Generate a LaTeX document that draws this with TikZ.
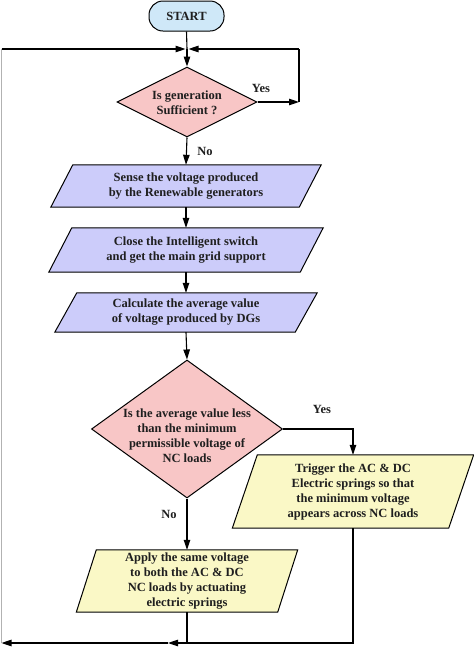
\documentclass[tikz,border=0pt]{standalone}
\usepackage{fontspec}
\setmainfont{Liberation Serif}
\usetikzlibrary{shapes.geometric,arrows.meta,backgrounds}
\definecolor{startc}{HTML}{CFE8F8}
\definecolor{parac}{HTML}{CCCCFA}
\definecolor{diac}{HTML}{F8C6C6}
\definecolor{yelc}{HTML}{FAF8C6}
\newcommand\drawpara[3]{%
  \filldraw[fill=#3, line width=1pt, line join=miter]
    ([xshift=#2/2]#1.north west) -- ([xshift=#2/2]#1.north east) --
    ([xshift=-#2/2]#1.south east) -- ([xshift=-#2/2]#1.south west) -- cycle;}
\begin{document}
\begin{tikzpicture}[x=1pt,y=-1pt,
  font=\fontsize{12.5}{15}\selectfont\bfseries,
  every node/.style={text=black!88},
  startbox/.style={rectangle, rounded corners=14pt, draw, fill=startc, line width=1pt,
     minimum width=75pt, minimum height=30pt, inner sep=0},
  pbox/.style={rectangle, align=center, inner sep=0},
  dia/.style={diamond, draw, line width=1pt, fill=diac, inner sep=0},
  txt/.style={align=center, inner sep=0},
  lab/.style={inner sep=0},
  ln/.style={line width=1.1pt},
  arr/.style={ln, -{Triangle[length=10pt,width=6.5pt]}},
  edgeln/.style={line width=1.8pt, draw=black!30}]
\useasboundingbox (0,0) rectangle (474,649);

\node[startbox] (start) at (186.5,16) {START};
\node[dia, minimum width=140pt, minimum height=70pt] (d1) at (187,102) {};
\node[txt] (d1t) at (187,102.5) {Is generation\\Sufficient ?};
\node[pbox, minimum width=248pt, minimum height=42pt] (p1) at (186,186)
  {Sense the voltage produced\\by the Renewable generators};
\node[pbox, minimum width=251pt, minimum height=44pt] (p2) at (186,250)
  {Close the Intelligent switch\\and get the main grid support};
\node[pbox, minimum width=240pt, minimum height=39pt] (p3) at (186,312.5)
  {Calculate the average value\\of voltage produced by DGs};
\node[dia, minimum width=191pt, minimum height=138pt] (d2) at (187,429) {};
\node[txt] (d2t) at (187,436)
  {Is the average value less\\than the minimum\\permissible voltage of\\NC loads};
\node[pbox, minimum width=216pt, minimum height=73pt] (trig) at (353,491.5)
  {Trigger the AC \& DC\\Electric springs so that\\the minimum voltage\\appears across NC loads};
\node[pbox, minimum width=201pt, minimum height=62pt] (apply) at (187,581)
  {Apply the same voltage\\to both the AC \& DC\\NC loads by actuating\\electric springs};

\begin{scope}[on background layer]
  \drawpara{p1}{22}{parac}
  \drawpara{p2}{23}{parac}
  \drawpara{p3}{22}{parac}
  \drawpara{trig}{25}{yelc}
  \drawpara{apply}{20}{yelc}
\end{scope}

\node[lab] (yes1) at (261,88) {Yes};
\node[lab] (no1) at (205,151) {No};
\node[lab] (yes2) at (322,409) {Yes};
\node[lab] (no2) at (169,514) {No};

\coordinate (j) at (187,49);
\coordinate (lt) at (1.5,49);
\coordinate (bl) at (1.5,643);
\coordinate (c1) at (299,102);
\coordinate (c2) at (299,49);
\coordinate (c3) at (353,429);
\coordinate (b1) at (187,643);
\coordinate (bm) at (168,643);

\draw[ln] (start.south) -- (j);
\draw[arr] (j) -- (d1.north);
\draw[arr] (d1.east) -- (c1);
\draw[ln] (c1) -- (c2);
\draw[arr, shorten >=1.5pt] (c2) -- (j);
\draw[arr] (d1.south) -- (p1.north);
\draw[arr] (p1.south) -- (p2.north);
\draw[arr] (p2.south) -- (p3.north);
\draw[arr] (p3.south) -- (d2.north);
\draw[arr] (d2.east) -- (c3) -- (trig.north);
\draw[arr] (d2.south) -- (apply.north);
\draw[ln] (apply.south) -- (b1);
\draw[arr] (trig.south) |- (bm);
\draw[edgeln] (bl) -- (lt);
\draw[arr] (bm) -- (bl);
\draw[arr, shorten >=1.5pt] (lt) -- (j);
\end{tikzpicture}
\end{document}
